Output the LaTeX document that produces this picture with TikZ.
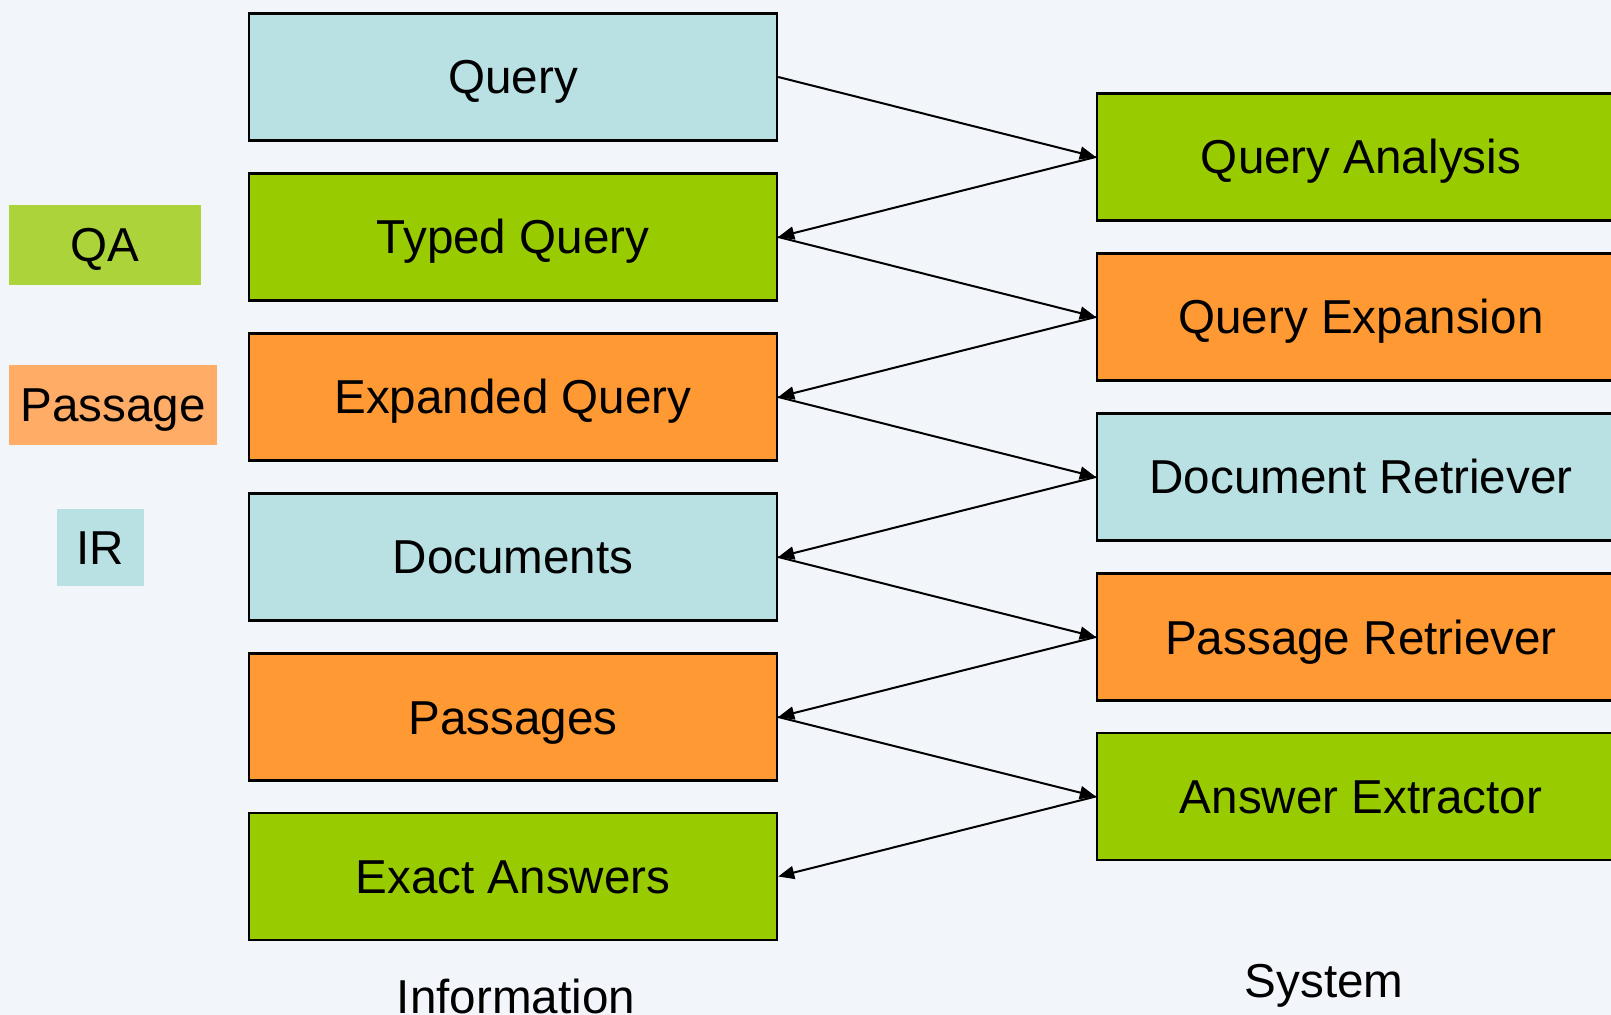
\documentclass[tikz,border=0pt]{standalone}
\usepackage{fontspec}
\setmainfont{Liberation Sans}
\usetikzlibrary{arrows.meta, positioning}
\definecolor{IRBlue}{RGB}{185,224,227}
\definecolor{QAGreen}{RGB}{153,204,0}
\definecolor{PassOrange}{RGB}{255,153,51}
\definecolor{KeyGreen}{RGB}{172,212,58}
\definecolor{KeyOrange}{RGB}{255,172,102}
\definecolor{SlideBg}{RGB}{242,245,250}

\begin{document}
\begin{tikzpicture}[x=0.5pt,y=-0.5pt,
	txt/.style={font=\fontsize{23.8}{28}\selectfont,text height=17pt,text depth=0pt},
	box/.style={txt,draw=black,line width=1.2pt,minimum width=264pt,minimum height=63.5pt,inner sep=0pt},
	key/.style={txt,inner sep=0pt,minimum height=40pt},
	flow/.style={line width=1pt,-{Triangle[length=8pt,width=6.5pt]}}]
\clip (0,0) rectangle (1611,1015);
\fill[SlideBg] (0,0) rectangle (1611,1015);
% colour key
\node[key,fill=KeyGreen,minimum width=96pt] (kqa) at (105,245) {QA};
\node[key,fill=KeyOrange,minimum width=104pt] (kpas) at (113,405) {Passage};
\node[key,fill=IRBlue,minimum width=43.5pt,minimum height=38.5pt] (kir) at (100.5,547.5) {IR};
% information column
\node[box,fill=IRBlue] (query) at (513,77) {Query};
\node[box,fill=QAGreen] (typed) at (513,237) {Typed Query};
\node[box,fill=PassOrange] (expanded) at (513,397) {Expanded Query};
\node[box,fill=IRBlue] (docs) at (513,557) {Documents};
\node[box,fill=PassOrange] (passages) at (513,717) {Passages};
\node[box,fill=QAGreen] (answers) at (513,876.5) {Exact Answers};
% system column
\node[box,fill=QAGreen] (qanalysis) at (1361,157) {Query Analysis};
\node[box,fill=PassOrange] (qexpansion) at (1361,317) {Query Expansion};
\node[box,fill=IRBlue] (docret) at (1361,477) {Document Retriever};
\node[box,fill=PassOrange] (passret) at (1361,637) {Passage Retriever};
\node[box,fill=QAGreen] (extractor) at (1361,796.5) {Answer Extractor};
% column titles
\node[txt,anchor=base] (info) at (516,1013) {Information};
\node[txt,anchor=base] (sys) at (1324,997) {System};
% zig-zag flow
\draw[flow] (query.east) -- (qanalysis.west);
\draw[flow] (qanalysis.west) -- (typed.east);
\draw[flow] (typed.east) -- (qexpansion.west);
\draw[flow] (qexpansion.west) -- (expanded.east);
\draw[flow] (expanded.east) -- (docret.west);
\draw[flow] (docret.west) -- (docs.east);
\draw[flow] (docs.east) -- (passret.west);
\draw[flow] (passret.west) -- (passages.east);
\draw[flow] (passages.east) -- (extractor.west);
\draw[flow] (extractor.west) -- (answers.east);
\end{tikzpicture}
\end{document}
